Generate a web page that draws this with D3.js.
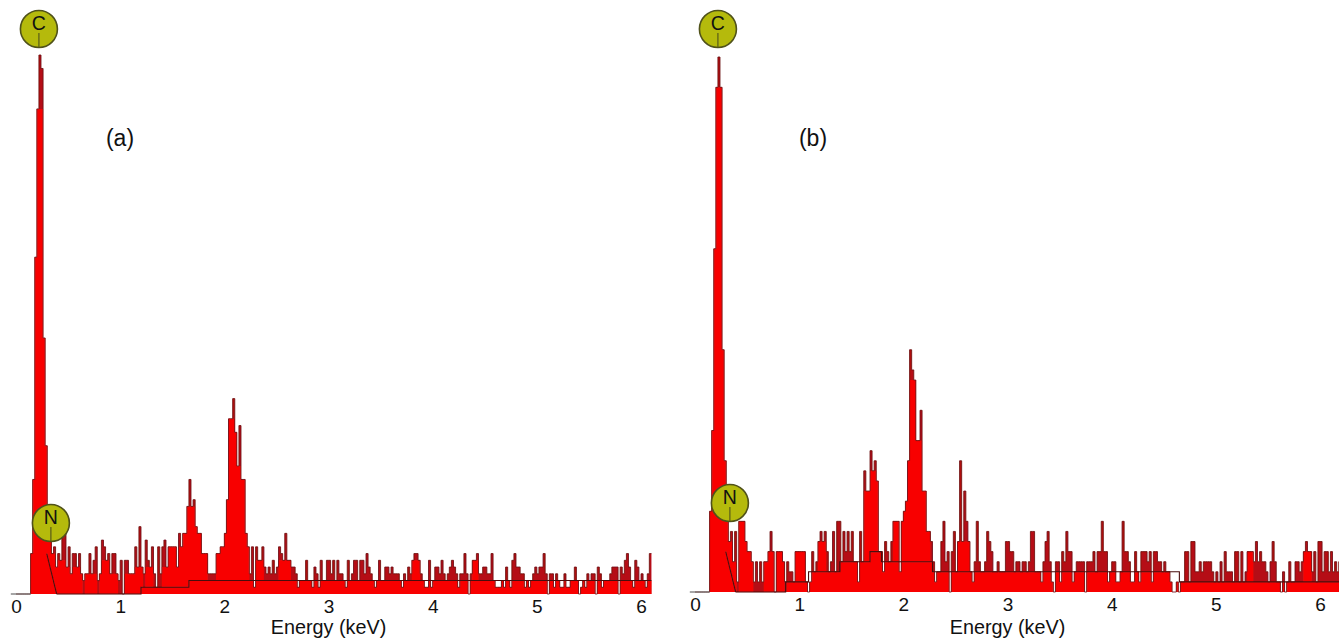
<!DOCTYPE html>
<html>
<head>
<meta charset="utf-8">
<style>
  html, body { margin: 0; background: #fff; }
  svg { display: block; }
  text { font-family: "Liberation Sans", Arial, sans-serif; fill: #111; }
</style>
<script src="https://cdnjs.cloudflare.com/ajax/libs/d3/7.8.5/d3.min.js"></script>
</head>
<body>
<svg id="chart"></svg>
<script>
const width = 1339, height = 640

// counts per 0.02 keV channel, starting at 0 keV, one row = 0.5 keV
const countsA = [
    0,0,0,0,0,0,0,6,17,50,72,80,78,38,22,12,8,6,7,4,6,5,9,9,4,
    7,3,6,6,4,6,3,2,3,3,6,3,5,7,2,3,8,7,5,6,3,6,6,3,2,
    5,0,5,5,3,3,3,7,4,10,4,3,8,5,4,7,3,1,7,3,7,8,4,7,7,
    7,7,4,9,7,9,9,13,17,13,14,10,9,9,6,6,6,3,3,3,3,6,6,7,7,
    9,14,26,26,29,24,19,25,17,17,9,7,3,7,1,7,5,5,7,4,3,4,3,5,3,
    4,7,6,5,9,5,5,4,4,3,1,2,2,2,5,2,2,1,4,3,1,5,2,2,5,
    5,3,5,2,5,3,3,2,1,5,2,3,5,5,2,5,5,3,6,4,3,2,1,2,5,
    2,2,4,4,3,4,3,3,3,2,1,3,2,4,3,5,6,6,5,3,2,1,1,5,1,
    2,4,4,3,5,3,2,3,4,5,4,3,1,3,3,6,3,0,3,5,5,6,3,3,4,
    4,3,3,6,2,1,1,1,2,1,4,2,1,5,6,4,4,3,3,1,2,1,2,3,4,
    3,4,4,6,3,0,3,3,1,3,2,1,1,3,1,1,2,2,4,2,0,1,2,1,3,
    2,3,3,0,4,3,1,2,2,2,3,4,4,4,0,4,3,5,6,4,2,1,5,4,2,
    3,2,1,3,6
]

const countsB = [
    0,0,0,0,0,0,0,8,16,34,50,53,50,24,13,7,5,6,3,6,1,7,7,7,5,
    4,4,3,1,3,1,3,1,3,3,4,6,4,0,4,4,4,3,1,3,2,2,1,4,4,
    4,4,4,1,0,1,4,2,3,5,6,5,6,4,2,3,6,2,7,7,3,6,4,6,4,
    6,3,3,1,6,3,12,10,10,14,12,13,11,4,4,2,5,4,3,5,7,7,7,2,7,
    8,9,13,24,22,21,15,15,18,10,10,6,6,5,3,1,2,2,5,7,3,4,0,4,6,
    2,5,13,5,10,7,5,2,1,3,7,3,2,2,3,6,5,4,2,2,3,2,2,2,5,
    5,4,4,2,3,3,2,3,3,2,3,6,6,2,2,2,1,3,5,6,3,1,0,3,3,
    1,4,3,6,4,4,1,2,3,3,3,3,0,3,3,3,4,2,4,4,7,4,4,1,2,
    3,3,1,1,2,7,4,4,3,1,1,4,2,1,4,4,4,3,4,1,4,4,3,3,2,
    3,2,2,1,0,0,1,0,1,1,4,4,1,5,5,2,2,3,2,3,3,3,3,2,1,
    2,1,3,1,4,2,2,2,1,4,4,1,4,1,2,4,4,4,3,5,3,4,3,3,2,
    1,3,5,3,1,1,0,2,0,1,3,1,1,3,3,2,3,4,5,4,4,2,4,1,5,
    5,2,4,4,2,4,2,3,2,3
]

// fitted background: energy where each level starts, then the level
const bgEnergyA = [0.39, 1.2, 1.66]
const bgLevelA = [0, 1, 2]
const bgEnergyB = [0.39, 0.87, 1.09, 1.39, 1.68, 1.79, 2.28, 4.65]
const bgLevelB = [0, 1, 2, 3, 4, 3, 2, 1]

const xTicks = [0, 1, 2, 3, 4, 5, 6]

const channelWidth = 0.02
const startPad = 0.05 // flat line before 0 keV

const svg = d3.select("svg#chart")
    .attr("viewBox", [0, 0, width, height])
    .attr("width", width)
    .attr("height", height)
    .style("background", "#ffffff")

// the scan is a little soft
svg.append("filter").attr("id", "soft")
    .attr("x", "-5%").attr("y", "-5%").attr("width", "110%").attr("height", "110%")
    .append("feGaussianBlur").attr("stdDeviation", 0.45)

function drawPanel(counts, bgEnergy, bgLevel, opts) {
    const x = d3.scaleLinear().domain([0, 6]).range([opts.x0, opts.x0 + 625])
    const y = d3.scaleLinear().domain([0, opts.maxCount]).range([opts.baseY, opts.topY])

    const g = svg.append("g")
    const spectrum = g.append("g").attr("filter", "url(#soft)")

    const toPoints = arr => {
        const pts = arr.map((c, i) => ({e: i * channelWidth, c}))
        pts.push({e: arr.length * channelWidth, c: arr[arr.length - 1]})
        return pts
    }

    const at = i => (i >= 0 && i < counts.length) ? counts[i] : 0
    const levelAt = e => {
        const k = d3.bisectRight(bgEnergy, e) - 1
        return k < 0 ? 0 : bgLevel[k]
    }

    // spikes read dark: bright only under the background level or in real peaks,
    // meaning three channels in a row well above that level
    const core = counts.map((c, i) => {
        const level = levelAt(i * channelWidth)
        const held = Math.max(
            Math.min(at(i - 2), at(i - 1), c),
            Math.min(at(i - 1), c, at(i + 1)),
            Math.min(c, at(i + 1), at(i + 2))
        )
        return held >= level + opts.peakMargin ? held : Math.min(c, level)
    })

    const area = d3.area()
        .curve(d3.curveStepAfter)
        .x(d => x(d.e))
        .y0(y(0))
        .y1(d => y(d.c))

    const line = d3.line()
        .curve(d3.curveStepAfter)
        .x(d => x(d.e))
        .y(d => y(d.c))

    spectrum.append("path")
        .attr("d", area(toPoints(counts)))
        .attr("fill", "#b50c12")

    spectrum.append("path")
        .attr("d", area(toPoints(core)))
        .attr("fill", "#f80606")

    spectrum.append("path")
        .attr("d", line(toPoints(counts)))
        .attr("fill", "none")
        .attr("stroke", "#6e1014")
        .attr("stroke-width", 1)
        .attr("stroke-opacity", 0.85)

    // baseline before the first counts
    spectrum.append("line")
        .attr("x1", x(-startPad)).attr("x2", x(0.14))
        .attr("y1", y(0)).attr("y2", y(0))
        .attr("stroke", "#6a6a6a")
        .attr("stroke-width", 1.2)

    // background fit, falling off the C/N tail first
    const bgPts = bgEnergy.map((e, i) => ({e, c: bgLevel[i]}))
    bgPts.push({e: counts.length * channelWidth, c: bgLevel[bgLevel.length - 1]})
    spectrum.append("path")
        .attr("d", line(bgPts))
        .attr("fill", "none")
        .attr("stroke", "#4a0d0d")
        .attr("stroke-width", 1.1)
    spectrum.append("line")
        .attr("x1", x(0.295)).attr("x2", x(0.39))
        .attr("y1", y(opts.tailCount)).attr("y2", y(0))
        .attr("stroke", "#4a0d0d")
        .attr("stroke-width", 1.1)

    const xAxis = d3.axisBottom(x)
        .tickValues(xTicks)
        .tickSize(0)
        .tickPadding(0)
        .tickFormat(d3.format("d"))

    const axisG = g.append("g")
        .attr("transform", `translate(0, ${opts.baseY + 2})`)
        .call(xAxis)
    axisG.select(".domain").remove()
    axisG.selectAll("text")
        .attr("font-size", 19)
        .attr("dy", "0.9em")
        .style("font-family", '"Liberation Sans", Arial, sans-serif')
        .attr("fill", "#111")

    g.append("text")
        .attr("x", x(3))
        .attr("y", 634)
        .attr("text-anchor", "middle")
        .attr("font-size", 19.8)
        .text("Energy (keV)")

    g.append("text")
        .attr("x", opts.labelX)
        .attr("y", 146)
        .attr("text-anchor", "middle")
        .attr("font-size", 23)
        .text(opts.label)

    // element markers
    opts.markers.forEach(m => {
        const cx = x(m.energy)
        const mk = g.append("g")
        mk.append("circle")
            .attr("cx", cx).attr("cy", m.cy).attr("r", 18.5)
            .attr("fill", "#b5ba0c")
            .attr("stroke", "#50521a")
            .attr("stroke-width", 1.6)
        mk.append("line")
            .attr("x1", cx).attr("x2", cx)
            .attr("y1", m.cy + 4).attr("y2", m.cy + 18)
            .attr("stroke", "#50521a")
            .attr("stroke-width", 1.1)
        mk.append("text")
            .attr("x", cx).attr("y", m.cy + 1)
            .attr("text-anchor", "middle")
            .attr("font-size", 19.5)
            .text(m.name)
    })
}

drawPanel(countsA, bgEnergyA, bgLevelA, {
    name: "a", x0: 16, baseY: 594, topY: 55, maxCount: 80,
    label: "(a)", labelX: 120, tailCount: 6, peakMargin: 3,
    markers: [{name: "C", energy: 0.22, cy: 29}, {name: "N", energy: 0.335, cy: 523}]
})

drawPanel(countsB, bgEnergyB, bgLevelB, {
    name: "b", x0: 695, baseY: 592, topY: 57, maxCount: 53,
    label: "(b)", labelX: 813, tailCount: 4, peakMargin: 3,
    markers: [{name: "C", energy: 0.22, cy: 29}, {name: "N", energy: 0.335, cy: 503}]
})
</script>
</body>
</html>
